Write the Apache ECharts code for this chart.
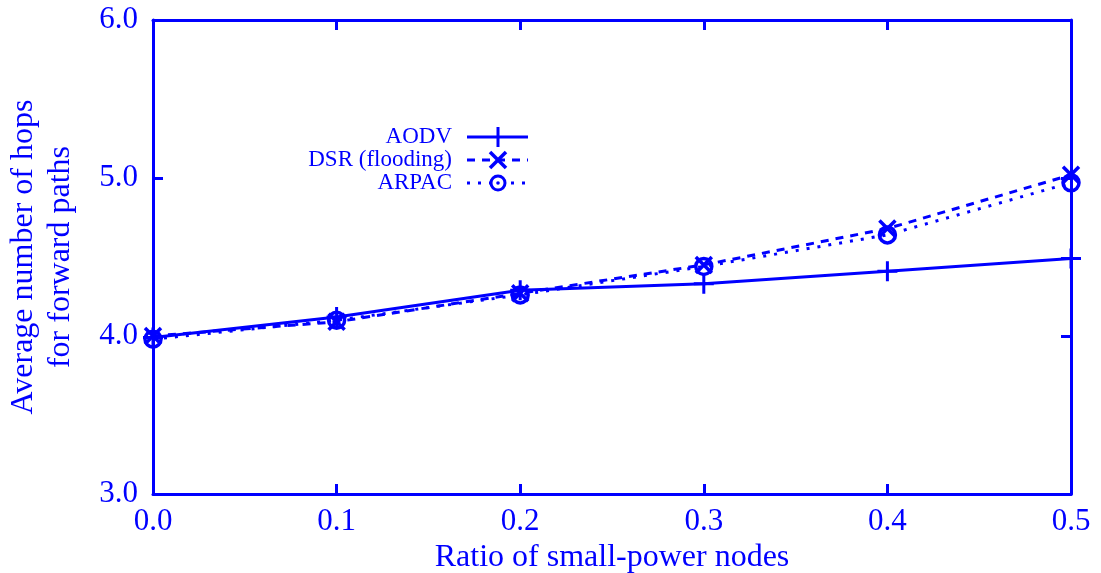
<!DOCTYPE html>
<html><head><meta charset="utf-8">
<script src="https://cdn.jsdelivr.net/npm/echarts@6/dist/echarts.min.js"></script>
<style>html,body{margin:0;padding:0;background:#fff}#c{width:1101px;height:573px}</style>
</head><body><div id="c"></div>
<script>
const xValues = [0.0, 0.1, 0.2, 0.3, 0.4, 0.5];
const aodv = [3.99, 4.12, 4.29, 4.33, 4.41, 4.49];
const dsr = [4.00, 4.09, 4.27, 4.45, 4.68, 5.02];
const arpac = [3.98, 4.10, 4.26, 4.44, 4.64, 4.97];
const seriesNames = ['AODV', 'DSR (flooding)', 'ARPAC'];
const yTicks = [3, 4, 5, 6];

const BLUE = '#0000ff';
const FONT = 'Liberation Serif';
const plusPath = 'path://M0,-10L0,10M-10,0L10,0';
const crossPath = 'path://M-10,-10L10,10M-10,10L10,-10';

function pairs(ys){ return xValues.map((x,i)=>[x, ys[i]]); }

const chart = echarts.init(document.getElementById('c'), null, {renderer:'canvas'});

const axisCommon = {
  axisLine:{show:true, onZero:false, lineStyle:{color:BLUE, width:3}},
  axisTick:{show:true, inside:true, length:10, lineStyle:{color:BLUE, width:3}},
  splitLine:{show:false}
};

const legY = [137, 160, 183];
const legendGraphics = [];
const styles = [
  {type:'solid', sym:'plus'},
  {type:[8,7], sym:'cross'},
  {type:[3,8], sym:'circle'}
];
seriesNames.forEach((n,i)=>{
  legendGraphics.push({type:'text', x:452, y:legY[i], style:{text:n, font:'23px "'+FONT+'"', fill:BLUE, textAlign:'right', textVerticalAlign:'middle'}});
  legendGraphics.push({type:'line', shape:{x1:467,y1:legY[i],x2:528,y2:legY[i]}, style:{stroke:BLUE, lineWidth:3, lineDash: styles[i].type==='solid'?null:styles[i].type}});
  const cx = 498, cy = legY[i];
  if (styles[i].sym==='plus') {
    legendGraphics.push({type:'line', shape:{x1:cx,y1:cy-10,x2:cx,y2:cy+10}, style:{stroke:BLUE, lineWidth:3}});
  } else if (styles[i].sym==='cross') {
    legendGraphics.push({type:'line', shape:{x1:cx-8,y1:cy-8,x2:cx+8,y2:cy+8}, style:{stroke:BLUE, lineWidth:3.5}});
    legendGraphics.push({type:'line', shape:{x1:cx-8,y1:cy+8,x2:cx+8,y2:cy-8}, style:{stroke:BLUE, lineWidth:3.5}});
  } else {
    legendGraphics.push({type:'circle', shape:{cx:cx,cy:cy,r:7}, style:{stroke:BLUE, lineWidth:3, fill:'#fff'}});
    legendGraphics.push({type:'circle', shape:{cx:cx,cy:cy,r:1.8}, style:{fill:BLUE}});
  }
});

chart.setOption({
  animation:false,
  backgroundColor:'#fff',
  grid:{left:153, right:30, top:20, bottom:79, containLabel:false, outerBoundsMode:'none'},
  xAxis:[
    Object.assign({type:'value', min:0, max:0.5, interval:0.1, position:'bottom',
      name:'Ratio of small-power nodes', nameLocation:'middle', nameGap:42,
      nameTextStyle:{color:BLUE, fontFamily:FONT, fontSize:32},
      axisLabel:{color:BLUE, fontFamily:FONT, fontSize:31, margin:12, formatter:v=>v.toFixed(1)}}, axisCommon),
    Object.assign({type:'value', min:0, max:0.5, interval:0.1, position:'top', axisLabel:{show:false}}, axisCommon)
  ],
  yAxis:[
    Object.assign({type:'value', min:yTicks[0], max:yTicks[yTicks.length-1], interval:1, position:'left',
      name:'Average number of hops\nfor forward paths', nameLocation:'middle', nameGap:74, nameRotate:90,
      nameTextStyle:{color:BLUE, fontFamily:FONT, fontSize:32, lineHeight:37},
      axisLabel:{color:BLUE, fontFamily:FONT, fontSize:31, margin:15, formatter:v=>v.toFixed(1)}}, axisCommon),
    Object.assign({type:'value', min:yTicks[0], max:yTicks[yTicks.length-1], interval:1, position:'right', axisLabel:{show:false}}, axisCommon)
  ],
  graphic: legendGraphics,
  series:[
    {name:seriesNames[0], type:'line', data:pairs(aodv), symbol:plusPath, symbolSize:20,
     lineStyle:{color:BLUE, width:3, type:'solid'},
     itemStyle:{color:'none', borderColor:BLUE, borderWidth:3}, z:3},
    {name:seriesNames[1], type:'line', data:pairs(dsr), symbol:crossPath, symbolSize:16,
     lineStyle:{color:BLUE, width:3, type:[8,7]},
     itemStyle:{color:'none', borderColor:BLUE, borderWidth:3.5}, z:4},
    {name:seriesNames[2], type:'line', data:pairs(arpac), symbol:'circle', symbolSize:16,
     lineStyle:{color:BLUE, width:3, type:[3,8]},
     itemStyle:{color:'rgba(0,0,0,0)', borderColor:BLUE, borderWidth:3.5}, z:5}
  ]
});
</script></body></html>
